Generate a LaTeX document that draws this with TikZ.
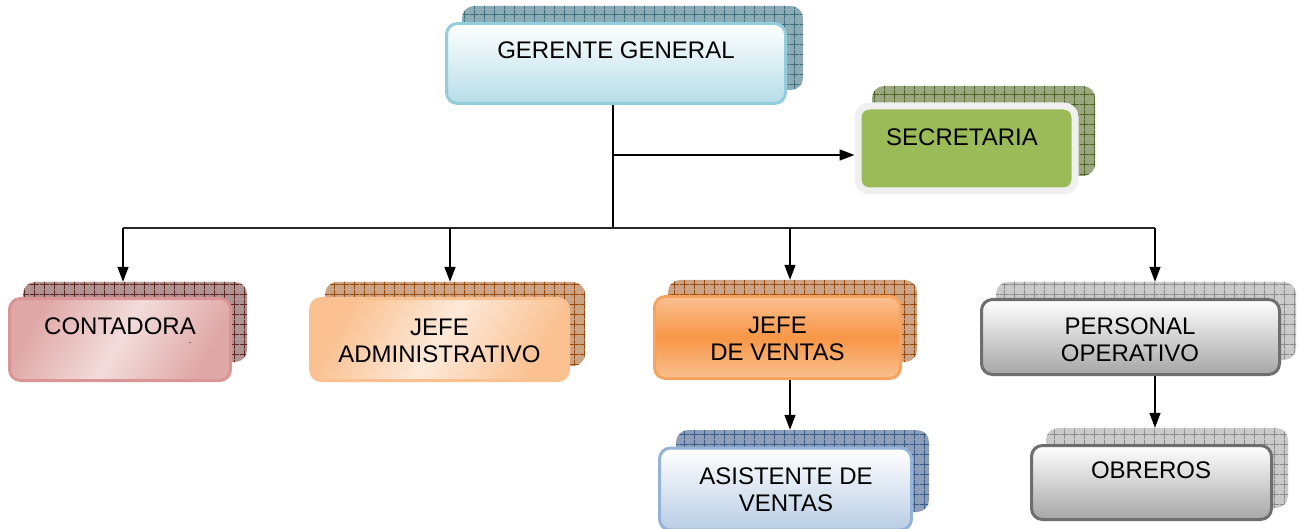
\documentclass[tikz,border=0pt]{standalone}
\usepackage{fontspec}
\setmainfont{Liberation Sans}
\usetikzlibrary{arrows.meta, positioning, patterns.meta}

\definecolor{ggLine}{HTML}{92CDDC}
\definecolor{ggFill}{HTML}{B7DDE8}
\definecolor{ggBack}{HTML}{8DABB5}
\definecolor{ggGrid}{HTML}{3F6E7C}
\definecolor{secFill}{HTML}{9BBB59}
\definecolor{secBack}{HTML}{9AA77E}
\definecolor{secGrid}{HTML}{4F6228}
\definecolor{conLine}{HTML}{D99694}
\definecolor{conDark}{HTML}{DFA7A6}
\definecolor{conFill}{HTML}{F2DCDB}
\definecolor{conBack}{HTML}{AE9393}
\definecolor{conGrid}{HTML}{632523}
\definecolor{admLine}{HTML}{FAC090}
\definecolor{admFill}{HTML}{FDE9D9}
\definecolor{admBack}{HTML}{CBA487}
\definecolor{admGrid}{HTML}{984807}
\definecolor{jvLine}{HTML}{F7A360}
\definecolor{jvFill}{HTML}{F79646}
\definecolor{poLine}{HTML}{6E6E6E}
\definecolor{poFill}{HTML}{A6A6A6}
\definecolor{poBack}{HTML}{CACACA}
\definecolor{poGrid}{HTML}{8C8C8C}
\definecolor{asLine}{HTML}{95B3D7}
\definecolor{asFill}{HTML}{B9CDE5}
\definecolor{asBack}{HTML}{8E9DB8}
\definecolor{asGrid}{HTML}{385D8A}

\tikzdeclarepattern{
  name=cellgrid,
  type=uncolored,
  bounding box={(0,0) and (10pt,10pt)},
  tile size={(10pt,10pt)},
  code={
    \draw[line width=0.8pt] (0,5pt) -- (10pt,5pt) (5pt,0) -- (5pt,10pt);
  }
}

\begin{document}
\begin{tikzpicture}[
    x=1pt, y=-1pt,
    sz/.style 2 args={minimum width=#1pt, minimum height=#2pt},
    back/.style 2 args={rectangle, rounded corners=12pt, inner sep=0pt,
      preaction={fill=#1}, pattern=cellgrid, pattern color=#2},
    front/.style={rectangle, rounded corners=11pt, inner sep=0pt, line width=3pt},
    txt/.style={font=\fontsize{24}{27}\selectfont, align=center, inner sep=0pt},
    bus/.style={line width=2pt, draw=black!85},
    arr/.style={line width=1.4pt, -{Triangle[length=15pt, width=11pt]}},
    >=Stealth
  ]
  \clip (0,0) rectangle (1298,529);

  % back cards
  \node [back={ggBack}{ggGrid}, sz={341}{84}] (gg-b) at (632.5,48) {};
  \node [back={secBack}{secGrid}, sz={223}{90}] (sec-b) at (983.5,131) {};
  \node [back={conBack}{conGrid}, sz={224}{80}] (con-b) at (135,322) {};
  \node [back={admBack}{admGrid}, sz={260}{84}] (adm-b) at (455,324) {};
  \node [back={admBack}{admGrid}, sz={249}{82}] (jv-b) at (792.5,321) {};
  \node [back={poBack}{poGrid}, sz={300}{78}] (po-b) at (1146,321) {};
  \node [back={asBack}{asGrid}, sz={253}{82}] (as-b) at (802.5,471) {};
  \node [back={poBack}{poGrid}, sz={242}{80}] (ob-b) at (1167,468) {};

  % front cards
  \node [front, draw=ggLine, top color=white, bottom color=ggFill, sz={339}{80}] (gg) at (616,63.5) {};
  \node [front, draw=black!6, line width=7pt, fill=secFill, sz={217}{85}] (sec) at (966.5,148.5) {};
  \node [front, draw=conLine, left color=conDark, right color=conDark, middle color=conFill,
    shading angle=60, sz={221}{82}] (con) at (120,339.5) {};
  \node [front, draw=admLine, left color=admLine, right color=admLine, middle color=admFill,
    shading angle=60, sz={258}{82}] (adm) at (439.5,339.5) {};
  \node [front, draw=jvLine, top color=admLine, bottom color=admLine, middle color=jvFill,
    sz={246}{82}] (jv) at (777.5,337.5) {};
  \node [front, draw=poLine, top color=white, bottom color=poFill, sz={298}{75}] (po) at (1130.5,337) {};
  \node [front, draw=asLine, top color=white, bottom color=asFill, sz={252}{82}] (as) at (785.5,489) {};
  \node [front, draw=poLine, top color=white, bottom color=poFill, sz={240}{74}] (ob) at (1151.5,482.5) {};

  % texts
  \node [txt] (gg-t) at (616,50) {GERENTE GENERAL};
  \node [txt] (sec-t) at (962,137) {SECRETARIA};
  \node [txt] (con-t) at (120,326) {CONTADORA};
  \node [inner sep=0pt, font=\small] (con-d) at (190,343) {.};
  \node [txt] (adm-t) at (439.5,340.5) {JEFE\\ADMINISTRATIVO};
  \node [txt] (jv-t) at (777.5,339) {JEFE\\DE VENTAS};
  \node [txt] (po-t) at (1130,339.5) {PERSONAL\\OPERATIVO};
  \node [txt] (as-t) at (786,490) {ASISTENTE DE\\VENTAS};
  \node [txt] (ob-t) at (1151,470) {OBREROS};

  % connectors
  \coordinate (busM) at (613,228);
  \coordinate (secIn) at (613,155);
  \coordinate (d1) at (123,228);
  \coordinate (d2) at (450,228);
  \coordinate (d3) at (790,228);
  \coordinate (d4) at (1155,228);

  \draw [line width=1.4pt] (gg.south -| busM) -- (busM);
  \draw [bus] (d1) -- (d4);
  \draw [arr] (secIn) -- (secIn -| sec.west);
  \draw [arr] (d1) -- (d1 |- con-b.north);
  \draw [arr] (d2) -- (d2 |- adm-b.north);
  \draw [arr] (d3) -- (d3 |- jv-b.north);
  \draw [arr] (d4) -- (d4 |- po-b.north);
  \draw [arr] (jv.south -| d3) -- (as-b.north -| d3);
  \draw [arr] (po.south -| d4) -- (ob-b.north -| d4);
\end{tikzpicture}
\end{document}
